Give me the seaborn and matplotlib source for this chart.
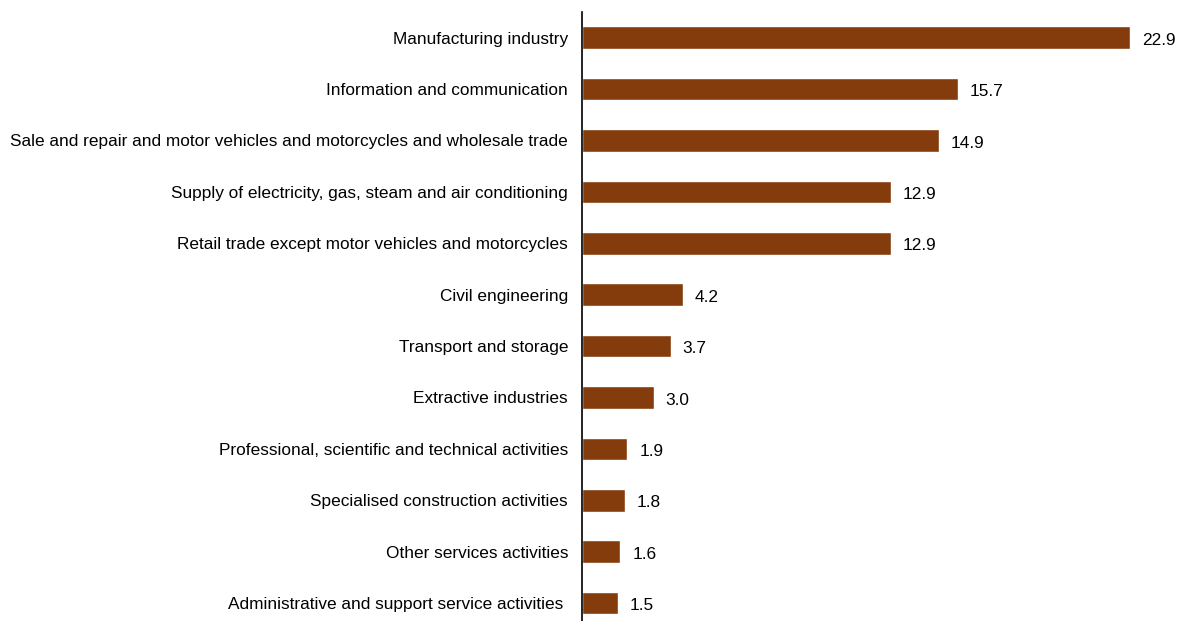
import matplotlib
matplotlib.use("Agg")
import matplotlib.pyplot as plt
import seaborn as sns
import pandas as pd

categories = [
    "Manufacturing industry",
    "Information and communication",
    "Sale and repair and motor vehicles and motorcycles and wholesale trade",
    "Supply of electricity, gas, steam and air conditioning",
    "Retail trade except motor vehicles and motorcycles",
    "Civil engineering",
    "Transport and storage",
    "Extractive industries",
    "Professional, scientific and technical activities",
    "Specialised construction activities",
    "Other services activities",
    "Administrative and support service activities ",
]
values = [22.9, 15.7, 14.9, 12.9, 12.9, 4.2, 3.7, 3.0, 1.9, 1.8, 1.6, 1.5]

df = pd.DataFrame({"category": categories, "value": values})

sns.set_style("white")
plt.rcParams["font.family"] = ["Liberation Sans", "DejaVu Sans"]

W, H = 1184, 621
fig = plt.figure(figsize=(W / 100, H / 100), dpi=100)
# axes placed in pixel terms: left at 582, right at 1130 (=22.9), top at 12
ax = fig.add_axes([582 / W, 0, (1130 - 582) / W, (621 - 12) / H])

sns.barplot(data=df, x="value", y="category", color="#843C0C",
            saturation=1, width=0.44, ax=ax, orient="h")

ax.set_xlim(0, 22.9)
ax.set_ylim(11 + 18 / 51.4, -0.5)

for i, v in enumerate(values):
    ax.text(v + 0.5, i + 0.05, f"{v:.1f}", va="center", ha="left",
            fontsize=12.4, color="black", clip_on=False)

ax.set_xlabel("")
ax.set_ylabel("")
ax.set_xticks([])
ax.tick_params(axis="y", length=0, pad=10, labelsize=12.4, labelcolor="black")
for s in ["top", "right", "bottom"]:
    ax.spines[s].set_visible(False)
ax.spines["left"].set_color("black")
ax.spines["left"].set_linewidth(1.2)

fig.savefig("out.png", dpi=100)
